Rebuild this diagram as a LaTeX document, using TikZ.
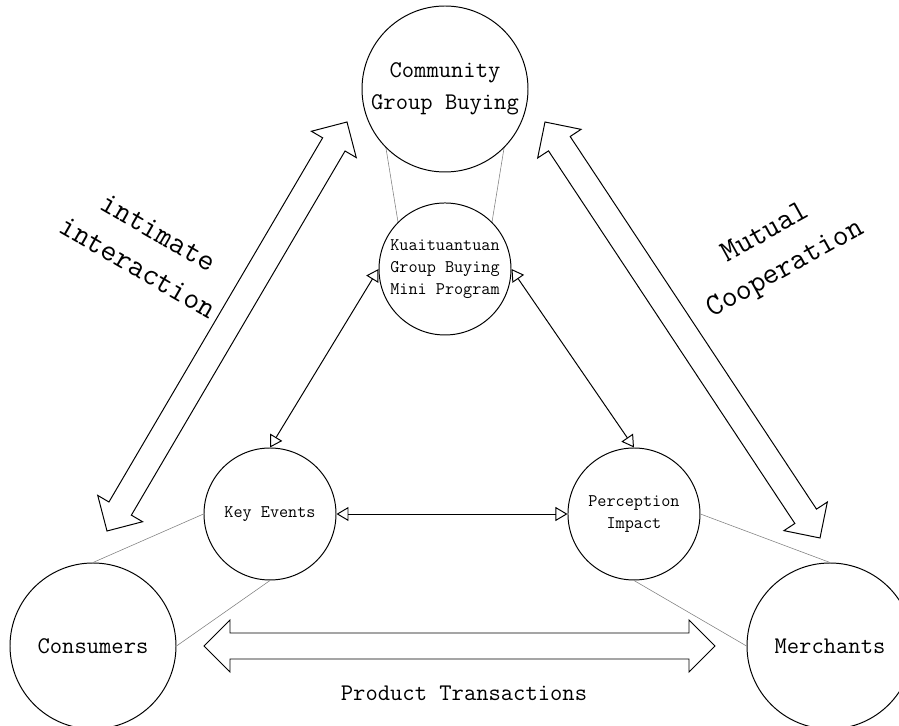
\documentclass[tikz,border=0pt]{standalone}
\usetikzlibrary{positioning,arrows.meta,calc}
\tikzset{
  >={Triangle[open,length=3mm,width=3.5mm]},
  big/.style={circle,draw,line width=0.7pt,minimum size=4.15cm,inner sep=0pt,
    font=\ttfamily\fontsize{17pt}{22.8pt}\selectfont,align=center},
  small/.style={circle,draw,line width=0.7pt,minimum size=3.3cm,inner sep=0pt,
    font=\ttfamily\fontsize{12.6pt}{15.4pt}\selectfont,align=center},
  link/.style={gray,line width=0.4pt},
  flow/.style={<->,line width=0.7pt},
  fat/.style={line width=0.7pt},
  side label/.style={font=\ttfamily\fontsize{22pt}{29.2pt}\selectfont,align=center},
}
% hollow two-headed block arrow between two named points
\newcommand{\fatarrow}[2]{%
  \draw[fat] (#1)
    -- ($(#1)!0.65cm!(#2)!0.65cm!90:(#2)$)
    -- ($(#1)!0.65cm!(#2)!0.325cm!90:(#2)$)
    -- ($(#2)!0.65cm!(#1)!0.325cm!-90:(#1)$)
    -- ($(#2)!0.65cm!(#1)!0.65cm!-90:(#1)$)
    -- (#2)
    -- ($(#2)!0.65cm!(#1)!0.65cm!90:(#1)$)
    -- ($(#2)!0.65cm!(#1)!0.325cm!90:(#1)$)
    -- ($(#1)!0.65cm!(#2)!0.325cm!-90:(#2)$)
    -- ($(#1)!0.65cm!(#2)!0.65cm!-90:(#2)$)
    -- cycle;}

\begin{document}
\begin{tikzpicture}

\clip (0,0) rectangle (22.475,18.15);

\node[big] (com) at (11.125,15.925) {Community\\Group Buying};
\node[small,below=0.75cm of com] (kt) {Kuaituantuan\\Group Buying\\Mini Program};
\node[small] (ke) at (6.75,5.3) {Key Events};
\node[small,right=5.775cm of ke] (pi) {Perception\\Impact};
\node[big] (con) at (2.325,2.0) {Consumers};
\node[big] (mer) at (20.75,2.0) {Merchants};

\draw[link] (com.south west) -- (kt.north west);
\draw[link] (com.south east) -- (kt.north east);
\draw[link] (ke.west) -- (con.north);
\draw[link] (ke.south) -- (con.east);
\draw[link] (pi.east) -- (mer.north);
\draw[link] (pi.south) -- (mer.west);

\draw[flow] (kt.west) -- (ke.north);
\draw[flow] (kt.east) -- (pi.north);
\draw[flow] (ke.east) -- (pi.west);

\coordinate (l1) at (2.675,4.875);
\coordinate (l2) at (8.675,15.1);
\coordinate (r1) at (13.625,15.1);
\coordinate (r2) at (20.5,4.7);
\coordinate (b1) at (5.1,2.0);
\coordinate (b2) at (17.875,2.0);
\fatarrow{l1}{l2}
\fatarrow{r1}{r2}
\fatarrow{b1}{b2}

\node[side label,rotate=-30] (intl) at (3.7,11.9) {intimate\\interaction};
\node[side label,rotate=29] (mutl) at (19.4,11.85) {Mutual\\Cooperation};
\node[font=\ttfamily\fontsize{17pt}{22.8pt}\selectfont] (ptl) at (11.6,0.825) {Product Transactions};

\end{tikzpicture}
\end{document}
